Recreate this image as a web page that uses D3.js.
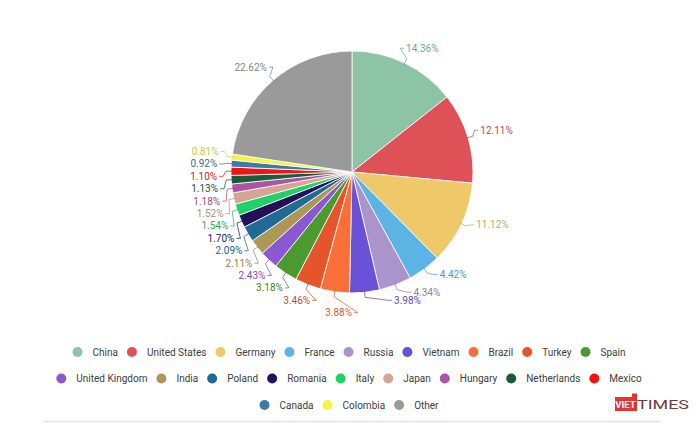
<!DOCTYPE html>
<html>
<head>
<meta charset="utf-8">
<script src="https://cdn.jsdelivr.net/npm/d3@7"></script>
<style>
  html, body { margin: 0; background: #fff; }
  svg { display: block; }
  text { font-family: Roboto, "Noto Sans", sans-serif; }
</style>
</head>
<body>
<svg id="chart" width="700" height="426"></svg>
<script>
/** chart data */
const countries = [
  "China", "United States", "Germany", "France", "Russia", "Vietnam", "Brazil",
  "Turkey", "Spain", "United Kingdom", "India", "Poland", "Romania", "Italy",
  "Japan", "Hungary", "Netherlands", "Mexico", "Canada", "Colombia", "Other",
];
const shares = [
  14.36, 12.11, 11.12, 4.42, 4.34, 3.98, 3.88, 3.46, 3.18, 2.43, 2.11,
  2.09, 1.7, 1.54, 1.52, 1.18, 1.13, 1.1, 0.92, 0.81, 22.62,
];
const colors = [
  "#8dc4a6", "#de5257", "#efc86a", "#5cb4e5", "#aa94cb", "#6a50d6", "#f96f38",
  "#e4552c", "#4a9a2f", "#8a58d3", "#ae9654", "#1f6b95", "#231058", "#1fd166",
  "#d5a593", "#aa559f", "#1a5b3a", "#f01515", "#3c7ba8", "#f4f444", "#9a9a9a",
];
/** number of legend entries in each legend row */
const legendRows = [9, 9, 3];

const svg = d3.select("#chart");
const cx = 352, cy = 172, radius = 121;

/** slices */
const pie = d3.pie().sort(null).value((d) => d.value);
const arcs = pie(
  countries.map((name, i) => ({ name, value: shares[i], color: colors[i] }))
);
const arc = d3.arc().innerRadius(0).outerRadius(radius);

const g = svg.append("g").attr("transform", `translate(${cx},${cy})`);
g.selectAll("path.slice")
  .data(arcs)
  .join("path")
  .attr("class", "slice")
  .attr("d", arc)
  .attr("fill", (d) => d.data.color)
  .attr("stroke", "#fff")
  .attr("stroke-opacity", 0.8)
  .attr("stroke-width", 1);

/** outside labels */
const labelR = 133, labelXR = 135, gap = 12.4, glyphH = 8;
const labelColor = (c) => d3.interpolateRgb(c, "#333")(0.22);
const xAt = (y, left) =>
  (left ? -1 : 1) * Math.sqrt(Math.max(0, labelXR * labelXR - y * y));

const labels = arcs.map((d) => {
  const mid = (d.startAngle + d.endAngle) / 2;
  return { d, mid, left: mid > Math.PI, y: -labelR * Math.cos(mid) - 4 };
});

const labelText = g
  .selectAll("text.pct")
  .data(labels)
  .join("text")
  .attr("class", "pct")
  .attr("font-size", 10)
  .attr("dominant-baseline", "central")
  .attr("text-anchor", (l) => (l.left ? "end" : "start"))
  .attr("fill", (l) => labelColor(l.d.data.color))
  .text((l) => `${l.d.value.toFixed(2)}%`);
labelText.each(function (l) {
  l.w = this.getComputedTextLength();
});

/** spread labels on each side so they do not collide */
const box = (l) => (l.left ? [l.x - l.w, l.x] : [l.x, l.x + l.w]);
const hits = (a, b) => {
  const [a0, a1] = box(a), [b0, b1] = box(b);
  return a0 < b1 && b0 < a1 && Math.abs(a.y - b.y) < glyphH;
};
for (const side of [true, false]) {
  const placed = [];
  labels
    .filter((l) => l.left === side)
    .sort((a, b) => a.y - b.y)
    .forEach((l) => {
      l.x = xAt(l.y, side);
      let hit;
      while ((hit = placed.find((p) => hits(p, l)))) {
        l.y = hit.y + gap;
        l.x = xAt(l.y, side);
      }
      placed.push(l);
    });
}
labelText.attr("x", (l) => l.x).attr("y", (l) => l.y);

/** connectors */
g.selectAll("path.link")
  .data(labels)
  .join("path")
  .attr("class", "link")
  .attr("fill", "none")
  .attr("stroke", (l) => labelColor(l.d.data.color))
  .attr("stroke-opacity", 0.8)
  .attr("stroke-width", 0.9)
  .attr("d", (l) => {
    const s = l.left ? 1 : -1;
    const p0 = [(radius - 2) * Math.sin(l.mid), -(radius - 2) * Math.cos(l.mid)];
    const p1 = [(radius + 5) * Math.sin(l.mid), -(radius + 5) * Math.cos(l.mid)];
    return d3.line()([p0, p1, [l.x + s * 6, l.y], [l.x + s * 2, l.y]]);
  });

/** legend */
const legendY = [352, 378.5, 405], legendCx = 349;
const dotR = 5, dotToText = 15, itemGap = 14;
let start = 0;
legendRows.forEach((count, row) => {
  const items = arcs.slice(start, start + count).map((d) => d.data);
  start += count;
  const rowG = svg.append("g");
  const entries = rowG.selectAll("g").data(items).join("g");
  entries
    .append("circle")
    .attr("r", dotR)
    .attr("fill", (d) => d.color);
  entries
    .append("text")
    .attr("x", dotToText)
    .attr("font-size", 10)
    .attr("fill", "#3d3d3d")
    .attr("dominant-baseline", "central")
    .text((d) => d.name);
  let x = 0;
  entries.each(function () {
    const w = d3.select(this).select("text").node().getComputedTextLength();
    d3.select(this).attr("transform", `translate(${x},0)`);
    x += dotToText + w + itemGap;
  });
  const rowW = x - itemGap + dotR;
  rowG.attr(
    "transform",
    `translate(${legendCx - rowW / 2 + dotR},${legendY[row]})`
  );
});

/** footer rule and logo */
svg
  .append("line")
  .attr("x1", 43)
  .attr("x2", 660)
  .attr("y1", 421.5)
  .attr("y2", 421.5)
  .attr("stroke", "#e2e2e2")
  .attr("stroke-width", 1.5);

const logo = svg.append("g").attr("transform", "translate(615,397)");
logo
  .append("path")
  .attr("d", "M0,0H17V-3.5H22V14H0Z")
  .attr("fill", "#e3342f");
logo
  .append("text")
  .attr("x", 10.5)
  .attr("y", 11)
  .attr("text-anchor", "middle")
  .attr("font-size", 9.5)
  .attr("font-weight", 700)
  .attr("fill", "#fff")
  .text("VIET");
logo
  .append("text")
  .attr("x", 22)
  .attr("y", 12)
  .attr("font-family", "'Liberation Serif', 'DejaVu Serif', serif")
  .attr("font-size", 13)
  .attr("textLength", 52)
  .attr("lengthAdjust", "spacingAndGlyphs")
  .attr("fill", "#6e3b3b")
  .text("TIMES");
</script>
</body>
</html>
